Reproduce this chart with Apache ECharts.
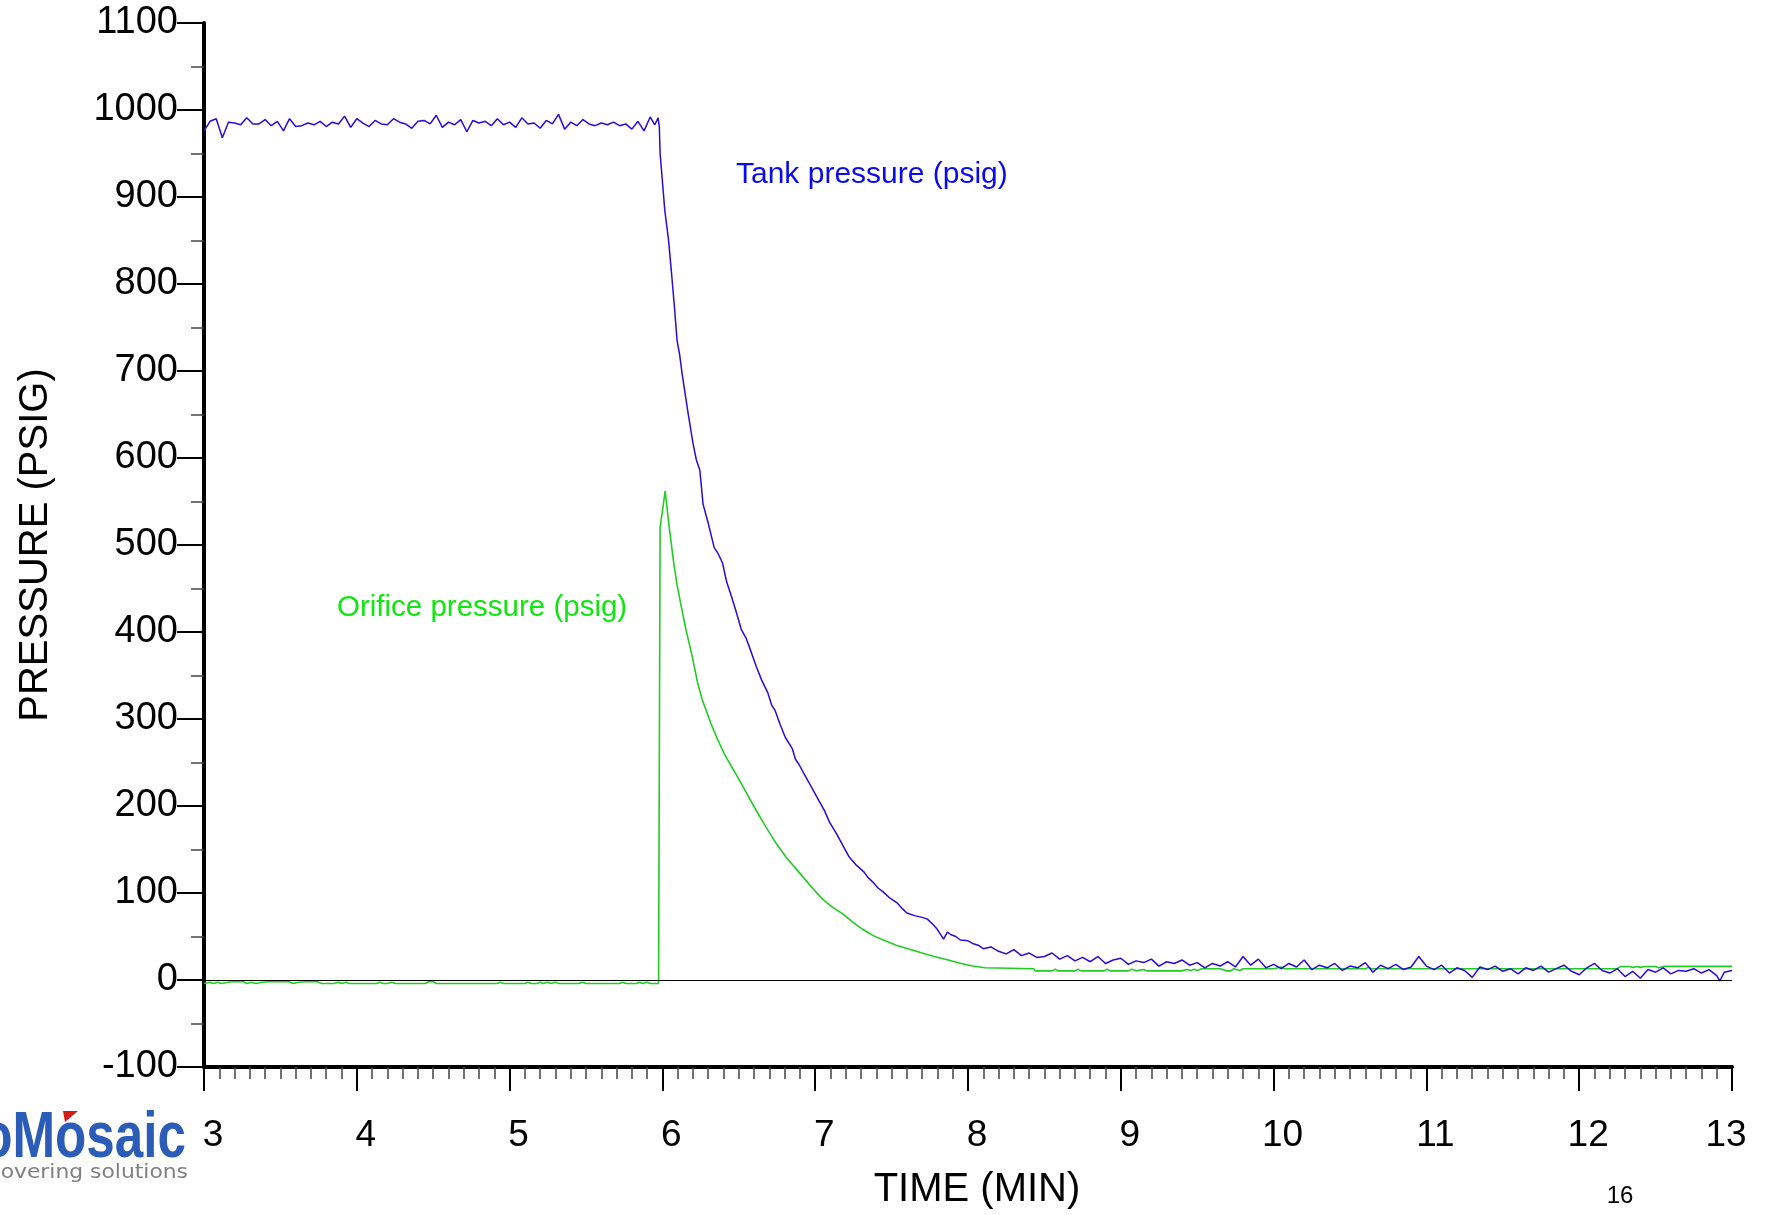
<!DOCTYPE html>
<html>
<head>
<meta charset="utf-8">
<title>Tank blowdown pressure</title>
<script src="https://cdn.jsdelivr.net/npm/echarts@6/dist/echarts.min.js"></script>
<style>
  html, body { margin: 0; padding: 0; background: #fff; }
  #chart { width: 1771px; height: 1215px; }
</style>
</head>
<body>
<div id="chart"></div>
<script>
// Axis ranges (minutes, psig)
const timeRange = [3, 13];
const timeStep = 1;
const pressureRange = [-100, 1100];
const pressureStep = 100;

// Tank pressure [time (min), psig] before the valve opens
const tankHold = [
  [3.00, 976], [3.04, 987], [3.08, 990], [3.12, 968], [3.16, 986], [3.20, 985],
  [3.24, 983], [3.28, 991], [3.32, 984], [3.36, 984], [3.40, 989], [3.44, 982],
  [3.48, 987], [3.52, 976], [3.56, 990], [3.60, 981], [3.64, 982], [3.68, 985],
  [3.72, 983], [3.76, 987], [3.80, 981], [3.84, 986], [3.88, 984], [3.92, 993],
  [3.96, 980], [4.00, 990], [4.04, 985], [4.08, 981], [4.12, 988], [4.16, 984],
  [4.20, 983], [4.24, 990], [4.28, 986], [4.32, 984], [4.36, 979], [4.40, 987],
  [4.44, 988], [4.48, 984], [4.52, 994], [4.56, 980], [4.60, 986], [4.64, 983],
  [4.68, 989], [4.72, 975], [4.76, 988], [4.80, 985], [4.84, 987], [4.88, 982],
  [4.92, 990], [4.96, 983], [5.00, 986], [5.04, 980], [5.08, 991], [5.12, 984],
  [5.16, 985], [5.20, 979], [5.24, 988], [5.28, 984], [5.32, 995], [5.36, 978],
  [5.40, 986], [5.44, 982], [5.48, 989], [5.52, 984], [5.56, 982], [5.60, 985],
  [5.64, 983], [5.68, 986], [5.72, 982], [5.76, 984], [5.80, 978], [5.84, 987],
  [5.88, 976], [5.92, 992], [5.95, 983], [5.972, 991]
];

// Tank pressure during the blowdown
const tankBlowdown = [
  [5.980, 980], [5.985, 950], [6.016, 884], [6.040, 851], [6.060, 812], [6.080, 771],
  [6.096, 735], [6.112, 720], [6.129, 697], [6.165, 655], [6.200, 617], [6.222, 598],
  [6.245, 586], [6.266, 547], [6.300, 525], [6.339, 497], [6.365, 490], [6.394, 479],
  [6.420, 458], [6.450, 442], [6.480, 425], [6.516, 403], [6.550, 392], [6.583, 376],
  [6.615, 360], [6.649, 345], [6.690, 330], [6.715, 316], [6.737, 310], [6.770, 294],
  [6.804, 279], [6.850, 266], [6.870, 254], [6.893, 248], [6.930, 236], [6.959, 227],
  [6.990, 217], [7.025, 206], [7.060, 195], [7.092, 182], [7.140, 168], [7.180, 155],
  [7.220, 142], [7.269, 132], [7.320, 124], [7.345, 118], [7.380, 112], [7.410, 106],
  [7.446, 101], [7.490, 94], [7.534, 89], [7.570, 82], [7.600, 77], [7.650, 74],
  [7.700, 72], [7.734, 70], [7.770, 64], [7.800, 58], [7.840, 47], [7.865, 55],
  [7.889, 52], [7.920, 50], [7.950, 46], [8.000, 45], [8.030, 42], [8.066, 40],
  [8.100, 36], [8.150, 38], [8.200, 33], [8.250, 30], [8.300, 35], [8.350, 28],
  [8.400, 31], [8.450, 26]
];

// Tank pressure after the blowdown
const tankTail = [
  [8.50, 27], [8.55, 31], [8.60, 24], [8.65, 28], [8.70, 22], [8.75, 26], [8.80, 21],
  [8.85, 27], [8.90, 19], [8.95, 23], [9.00, 25], [9.05, 18], [9.10, 22], [9.15, 20],
  [9.20, 24], [9.25, 16], [9.30, 21], [9.35, 19], [9.40, 23], [9.45, 17], [9.50, 20],
  [9.55, 14], [9.60, 19], [9.65, 16], [9.70, 21], [9.75, 15], [9.80, 27], [9.85, 17],
  [9.90, 24], [9.95, 14], [10.00, 18], [10.05, 13], [10.10, 19], [10.15, 15], [10.20, 23],
  [10.25, 12], [10.30, 17], [10.35, 14], [10.40, 19], [10.45, 11], [10.50, 16], [10.55, 14],
  [10.60, 20], [10.65, 9], [10.70, 17], [10.75, 13], [10.80, 18], [10.85, 12], [10.90, 15],
  [10.95, 27], [11.00, 16], [11.05, 12], [11.10, 17], [11.15, 8], [11.20, 14], [11.25, 11],
  [11.30, 3], [11.35, 15], [11.40, 12], [11.45, 16], [11.50, 10], [11.55, 13], [11.60, 7],
  [11.65, 14], [11.70, 11], [11.75, 16], [11.80, 9], [11.85, 13], [11.90, 17], [11.95, 10],
  [12.00, 6], [12.05, 14], [12.10, 19], [12.15, 11], [12.20, 8], [12.25, 13], [12.30, 4],
  [12.35, 10], [12.40, 2], [12.45, 12], [12.50, 9], [12.55, 14], [12.60, 7], [12.65, 11],
  [12.70, 10], [12.75, 13], [12.80, 8], [12.85, 12], [12.90, 5], [12.92, -1], [12.95, 9],
  [13.00, 11]
];

// Orifice pressure before the valve opens
const orificeIdle = [
  [3.00, -4], [3.04, -2.5], [3.06, -4], [3.09, -2.5], [3.11, -4], [3.18, -2], [3.26, -2],
  [3.28, -4], [3.31, -2.5], [3.34, -4], [3.38, -2.5], [3.42, -2], [3.56, -2], [3.58, -4],
  [3.62, -2.5], [3.66, -2], [3.74, -2], [3.77, -4], [3.85, -4], [3.88, -2.5], [3.90, -4],
  [3.93, -2.5], [3.95, -4], [4.13, -4], [4.15, -2.5], [4.17, -4], [4.20, -4], [4.23, -2.5],
  [4.25, -4], [4.45, -4], [4.47, -2], [4.50, -2], [4.52, -4], [4.92, -4], [4.94, -2.5],
  [4.96, -4], [5.10, -4], [5.12, -2.5], [5.14, -4], [5.18, -4], [5.20, -2.5], [5.22, -4],
  [5.25, -2.5], [5.27, -4], [5.30, -2.5], [5.32, -4], [5.45, -4], [5.48, -2.5], [5.50, -4],
  [5.72, -4], [5.74, -2.5], [5.76, -4], [5.83, -4], [5.85, -2.5], [5.87, -4], [5.90, -2.5],
  [5.92, -4], [5.975, -4]
];

// Orifice pressure during the blowdown
const orificeBlowdown = [
  [5.985, 520], [6.018, 562], [6.045, 520], [6.073, 481], [6.095, 455], [6.118, 434],
  [6.155, 402], [6.195, 372], [6.230, 342], [6.261, 322], [6.290, 308], [6.317, 295],
  [6.360, 277], [6.405, 260], [6.450, 246], [6.494, 233], [6.550, 215], [6.604, 198],
  [6.670, 178], [6.737, 159], [6.810, 141], [6.893, 124], [6.970, 108], [7.048, 93],
  [7.110, 84], [7.180, 76], [7.250, 66], [7.313, 58], [7.380, 51], [7.446, 46],
  [7.530, 40], [7.623, 35], [7.700, 31], [7.778, 27], [7.870, 23], [7.955, 19],
  [8.030, 16], [8.110, 14]
];

// Orifice pressure after the blowdown
const orificeTail = [
  [8.43, 13], [8.44, 10.5], [8.55, 10.5], [8.57, 12.5], [8.59, 10.5], [8.70, 10.5],
  [8.72, 12.5], [8.74, 10.5], [8.89, 10.5], [8.91, 12.5], [8.93, 10.5], [9.05, 10.5],
  [9.07, 12.5], [9.10, 10.5], [9.15, 12], [9.17, 10.5], [9.40, 10.5], [9.43, 12],
  [9.46, 11], [9.48, 12.5], [9.50, 11], [9.53, 13], [9.65, 13], [9.69, 10.5], [9.72, 10.5],
  [9.74, 13], [9.78, 11], [9.80, 13], [10.00, 13], [10.05, 15], [10.07, 13], [10.60, 13],
  [10.62, 14.5], [10.64, 13], [12.25, 13], [12.27, 15.5], [12.33, 15.5], [12.35, 14.5],
  [12.38, 15.5], [12.40, 14.5], [12.43, 15.5], [12.50, 15.5], [12.52, 14], [12.56, 15.7],
  [13.00, 15.7]
];

const tankPressure = tankHold.concat(tankBlowdown, tankTail);
const orificePressure = orificeIdle.concat(orificeBlowdown, orificeTail);

const FONT = '"Liberation Sans", Arial, sans-serif';
const chart = echarts.init(document.getElementById('chart'), null, { renderer: 'canvas' });

chart.setOption({
  animation: false,
  backgroundColor: '#ffffff',
  grid: { left: 204, right: 39, top: 23, bottom: 147, containLabel: false },
  xAxis: {
    type: 'value',
    min: timeRange[0],
    max: timeRange[1],
    interval: timeStep,
    name: 'TIME (MIN)',
    nameLocation: 'middle',
    nameGap: 103,
    nameTextStyle: { fontFamily: FONT, fontSize: 40, color: '#000', padding: [0, 0, 0, 18] },
    axisLine: { show: true, onZero: false, lineStyle: { color: '#000', width: 4 } },
    axisTick: { show: true, length: 24, lineStyle: { color: '#000', width: 2 } },
    minorTick: { show: true, splitNumber: 10, length: 12, lineStyle: { color: '#444', width: 1.5 } },
    splitLine: { show: false },
    minorSplitLine: { show: false },
    axisLabel: {
      fontFamily: FONT, fontSize: 37, color: '#000', margin: 50,
      padding: [0, 0, 0, 18],
      formatter: function (v) {
        return v === timeRange[1] ? '{last|' + v + '}' : String(v);
      },
      rich: {
        last: { fontFamily: FONT, fontSize: 37, color: '#000', padding: [0, 30, 0, 0] }
      }
    }
  },
  yAxis: {
    type: 'value',
    min: pressureRange[0],
    max: pressureRange[1],
    interval: pressureStep,
    name: 'PRESSURE (PSIG)',
    nameLocation: 'middle',
    nameGap: 148,
    nameRotate: 90,
    nameTextStyle: { fontFamily: FONT, fontSize: 40, color: '#000' },
    axisLine: { show: true, onZero: false, lineStyle: { color: '#000', width: 4 } },
    axisTick: { show: true, length: 27, lineStyle: { color: '#000', width: 2 } },
    minorTick: { show: true, splitNumber: 2, length: 13, lineStyle: { color: '#444', width: 1.5 } },
    splitLine: { show: false },
    axisLabel: {
      fontFamily: FONT, fontSize: 38, color: '#000', margin: 26,
      formatter: function (v) { return String(v); }
    }
  },
  series: [
    {
      name: 'Orifice pressure (psig)',
      type: 'line',
      data: orificePressure,
      showSymbol: false,
      symbol: 'none',
      lineStyle: { color: '#22cc22', width: 1.6 },
      z: 3,
      markLine: {
        silent: true,
        symbol: 'none',
        label: { show: false },
        lineStyle: { color: '#000', width: 1, type: 'solid' },
        data: [{ yAxis: 0 }]
      }
    },
    {
      name: 'Tank pressure (psig)',
      type: 'line',
      data: tankPressure,
      showSymbol: false,
      symbol: 'none',
      lineStyle: { color: '#2a0ad8', width: 1.5 },
      z: 4
    }
  ],
  graphic: [
    {
      type: 'text', left: 736, top: 160,
      style: { text: 'Tank pressure (psig)', font: '30px ' + FONT, fill: '#0a0af0' }
    },
    {
      type: 'text', left: 337, top: 593,
      style: { text: 'Orifice pressure (psig)', font: '29.5px ' + FONT, fill: '#11e611' }
    },
    {
      type: 'text', x: 1620, y: 1196,
      style: { text: '16', font: '24px ' + FONT, fill: '#000', align: 'center', verticalAlign: 'middle' }
    },
    // company mark in the lower left corner
    {
      type: 'text', x: 186, y: 1107, scaleX: 0.8, originX: 0, originY: 0,
      style: { text: 'ioMosaic', font: 'bold 64px ' + FONT, fill: '#2a5cb8', align: 'right', verticalAlign: 'top' }
    },
    {
      type: 'polygon',
      shape: { points: [[63, 1111], [78, 1111], [65, 1122]] },
      style: { fill: '#d61a1a' }
    },
    {
      type: 'text', x: 188, y: 1173, scaleX: 1.15, originX: 0, originY: 0,
      style: { text: 'discovering solutions', font: '19px "DejaVu Sans", sans-serif', fill: '#808080', align: 'right', verticalAlign: 'middle' }
    }
  ]
});
</script>
</body>
</html>
